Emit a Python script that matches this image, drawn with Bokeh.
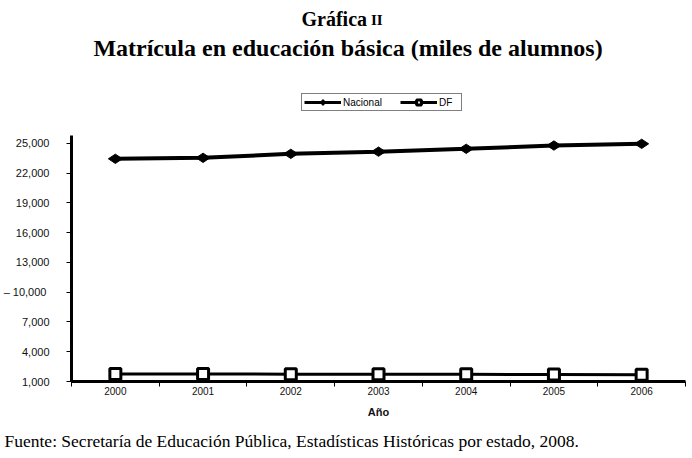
import math
from bokeh.plotting import figure
from bokeh.layouts import column
from bokeh.models import (Range1d, FixedTicker, Label, Legend, LegendItem, Title,
                          CustomJSTickFormatter)
from bokeh.embed import file_html
from bokeh.resources import INLINE

years = [2000, 2001, 2002, 2003, 2004, 2005, 2006]
nacional = [23450, 23550, 23950, 24170, 24460, 24790, 24960]
df = [1760, 1750, 1740, 1730, 1720, 1710, 1690]
y_ticks = [1000, 4000, 7000, 10000, 13000, 16000, 19000, 22000, 25000]

title1 = "Gráfica"
title1b = "II"
title2 = "Matrícula en educación básica (miles de alumnos)"
series_names = ["Nacional", "DF"]
x_label = "Año"
footer = "Fuente: Secretaría de Educación Pública, Estadísticas Históricas por estado, 2008."

W, H = 692, 458
TOP_H = 120  # header figure height (titles + legend)
FL, FR, FT, FB = 70, 685, 135, 381
serif = "Liberation Serif"

# ---------------- header figure: titles and legend ----------------
head = figure(width=W, height=TOP_H, output_backend="svg", toolbar_location=None,
              x_range=Range1d(FL, FR), y_range=Range1d(TOP_H, 0),
              x_axis_location=None, y_axis_location=None,
              min_border_left=FL, min_border_right=W - FR, min_border_top=0, min_border_bottom=0)
head.outline_line_color = None
head.grid.visible = False
head.border_fill_color = "white"

head.add_layout(Label(x=366, y=18, text=title1, text_font=serif, text_font_size="20px",
                      text_font_style="bold", text_color="black",
                      text_align="right", text_baseline="middle"))
head.add_layout(Label(x=370, y=19, text=title1b, text_font=serif, text_font_size="15px",
                      text_font_style="bold", text_color="black",
                      text_align="left", text_baseline="middle"))
head.add_layout(Label(x=347, y=47, text=title2, text_font=serif, text_font_size="24px",
                      text_font_style="bold", text_color="black",
                      text_align="center", text_baseline="middle"))

# legend glyph renderers (kept outside the visible range)
lx, ly = [-1000, -999], [-1000, -1000]
lr1 = head.line(lx, ly, line_color="black", line_width=3)
lm1 = head.scatter(lx, ly, marker="diamond", angle=math.pi / 2, size=12,
                   fill_color="black", line_color="black", line_width=2)
lr2 = head.line(lx, ly, line_color="black", line_width=3)
lm2 = head.scatter(lx, ly, marker="square", size=9, fill_color="white",
                   line_color="black", line_width=3)
legend = Legend(items=[LegendItem(label=series_names[0], renderers=[lr1, lm1]),
                       LegendItem(label=series_names[1], renderers=[lr2, lm2])],
                orientation="horizontal", location=(300 - FL, TOP_H - 111),
                label_text_font="Liberation Sans", label_text_font_size="10px",
                label_text_color="black",
                label_height=10, glyph_height=12, glyph_width=37, label_standoff=2,
                spacing=18, padding=2, margin=0,
                border_line_color="black", border_line_width=1,
                background_fill_alpha=1)
head.add_layout(legend)

# ---------------- main chart ----------------
p = figure(width=W, height=H - TOP_H, output_backend="svg", toolbar_location=None,
           x_range=Range1d(years[0] - 0.5, years[-1] + 0.5),
           y_range=Range1d(1000, 25800))
p.min_border_left = FL
p.min_border_right = W - FR
p.min_border_top = FT - TOP_H
p.min_border_bottom = H - FB
p.outline_line_color = None
p.grid.visible = False
p.background_fill_color = "white"
p.border_fill_color = "white"

p.line(years, nacional, line_color="black", line_width=4)
p.scatter(years, nacional, marker="diamond", angle=math.pi / 2, size=14,
          fill_color="black", line_color="black")
p.line(years, df, line_color="black", line_width=3)
p.scatter(years, df, marker="square", size=11, fill_color="white",
          line_color="black", line_width=3)

xa = p.xaxis[0]
xa.ticker = FixedTicker(ticks=years, minor_ticks=[y + 0.5 for y in [years[0] - 1] + years])
xa.formatter = CustomJSTickFormatter(code="return String(tick);")
xa.major_tick_out = 0
xa.major_tick_in = 0
xa.minor_tick_out = 5
xa.minor_tick_in = 0
xa.minor_tick_line_color = "black"
xa.minor_tick_line_width = 1
xa.axis_line_width = 3
xa.axis_line_color = "black"
xa.major_label_text_font = "Liberation Sans"
xa.major_label_text_font_size = "10px"
xa.major_label_text_color = "#111111"
xa.major_label_standoff = 0
xa.axis_label = x_label
xa.axis_label_text_font = "Liberation Sans"
xa.axis_label_text_font_size = "11px"
xa.axis_label_text_font_style = "bold"
xa.axis_label_text_color = "#111111"
xa.axis_label_standoff = 8

ya = p.yaxis[0]
ya.ticker = FixedTicker(ticks=y_ticks)
ya.formatter = CustomJSTickFormatter(
    code="const s = Math.round(tick).toLocaleString('en-US'); return tick == 10000 ? '\u2013  ' + s : s;")
ya.major_tick_out = 5
ya.major_tick_in = 0
ya.minor_tick_out = 0
ya.minor_tick_in = 0
ya.axis_line_width = 3
ya.axis_line_color = "black"
ya.major_tick_line_width = 1
ya.major_label_text_font = "Liberation Sans"
ya.major_label_text_font_size = "11px"
ya.major_label_text_color = "#111111"
ya.major_label_standoff = 17

p.add_layout(Title(text=footer, align="left", offset=3 - FL, standoff=16,
                   text_font=serif, text_font_size="17.5px", text_font_style="normal",
                   text_color="black"), "below")

layout = column(head, p, spacing=0)
open("out.html", "w").write(file_html(layout, INLINE))
